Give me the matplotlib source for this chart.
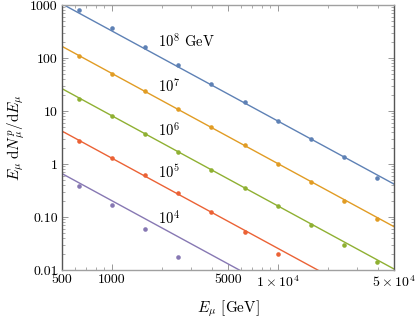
import numpy as np
import matplotlib
matplotlib.use("Agg")
import matplotlib.pyplot as plt
from matplotlib.ticker import FixedLocator, LogLocator, NullFormatter

plt.rcParams['font.family'] = 'cmr10'
plt.rcParams['mathtext.fontset'] = 'cm'
plt.rcParams['axes.formatter.use_mathtext'] = True

# muon energies of the sampled points (GeV)
energy = [631, 1000, 1585, 2512, 3981, 6310, 10000, 15849, 25119, 39811]

# points per primary energy
pts_1e8 = [803, 366, 163, 75, 33, 15, 6.6, 2.94, 1.36, 0.55]
pts_1e7 = [110, 51, 23.5, 10.9, 5.05, 2.26, 0.99, 0.45, 0.20, 0.092]
pts_1e6 = [16.6, 7.9, 3.66, 1.68, 0.77, 0.36, 0.16, 0.071, 0.030, 0.014]
pts_1e5 = [2.69, 1.28, 0.63, 0.28, 0.124, 0.052, 0.020]
pts_1e4 = [0.38, 0.168, 0.059, 0.0174]

# fit lines: value at E=500 and at E=5e4
line_x = [500, 50000]
line_1e8 = [1050, 0.42]
line_1e7 = [166, 0.066]
line_1e6 = [26.4, 0.0105]
line_1e5 = [4.18, 0.00166]
line_1e4 = [0.66, 0.00026]

labels = [r'$10^8$ GeV', r'$10^7$', r'$10^6$', r'$10^5$', r'$10^4$']
label_y = [208, 30.5, 4.5, 0.69, 0.097]

colors = ['#5e81b5', '#e19c24', '#8fb032', '#eb6235', '#8778b3']

series = [(pts_1e8, line_1e8), (pts_1e7, line_1e7), (pts_1e6, line_1e6),
          (pts_1e5, line_1e5), (pts_1e4, line_1e4)]

fig = plt.figure(figsize=(4.15, 3.23), dpi=100)
ax = fig.add_axes([0.1494, 0.164, 0.7996, 0.8205])

for (pts, ln), c in zip(series, colors):
    ax.plot(line_x, ln, color=c, lw=1.0)
    ax.plot(energy[:len(pts)], pts, 'o', color=c, ms=3.3, mec='none')

for lab, yv in zip(labels, label_y):
    ax.text(1890, yv, lab, fontsize=10.5, va='center', ha='left')

ax.set_xscale('log')
ax.set_yscale('log')
ax.set_xlim(500, 50000)
ax.set_ylim(0.01, 1000)

ax.xaxis.set_major_locator(FixedLocator([500, 1000, 5000, 10000, 50000]))
ax.set_xticklabels(['500', '1000', '5000', r'$1\times10^4$', r'$5\times10^4$'])
ax.xaxis.set_minor_locator(LogLocator(base=10, subs=np.arange(1, 10)))
ax.xaxis.set_minor_formatter(NullFormatter())

ax.yaxis.set_major_locator(FixedLocator([0.01, 0.1, 1, 10, 100, 1000]))
ax.set_yticklabels(['0.01', '0.10', '1', '10', '100', '1000'])
ax.yaxis.set_minor_locator(LogLocator(base=10, subs=np.arange(2, 10)))
ax.yaxis.set_minor_formatter(NullFormatter())

ax.tick_params(which='both', direction='in', top=True, right=True,
               labelsize=10, color='#888888', pad=3)
ax.tick_params(which='major', length=4, width=0.6)
ax.tick_params(which='minor', length=2, width=0.5)

for side in ['left', 'right']:
    ax.spines[side].set_color('#555555')
for side in ['top', 'bottom']:
    ax.spines[side].set_color('#a0a0a0')
for s in ax.spines.values():
    s.set_linewidth(1.0)

ax.set_xlabel(r'$E_\mu$ [GeV]', fontsize=11, labelpad=6)
ax.set_ylabel(r'$E_\mu\;\mathrm{d}N^p_\mu/\mathrm{d}E_\mu$', fontsize=11, labelpad=2)

fig.savefig('out.png', dpi=100)
